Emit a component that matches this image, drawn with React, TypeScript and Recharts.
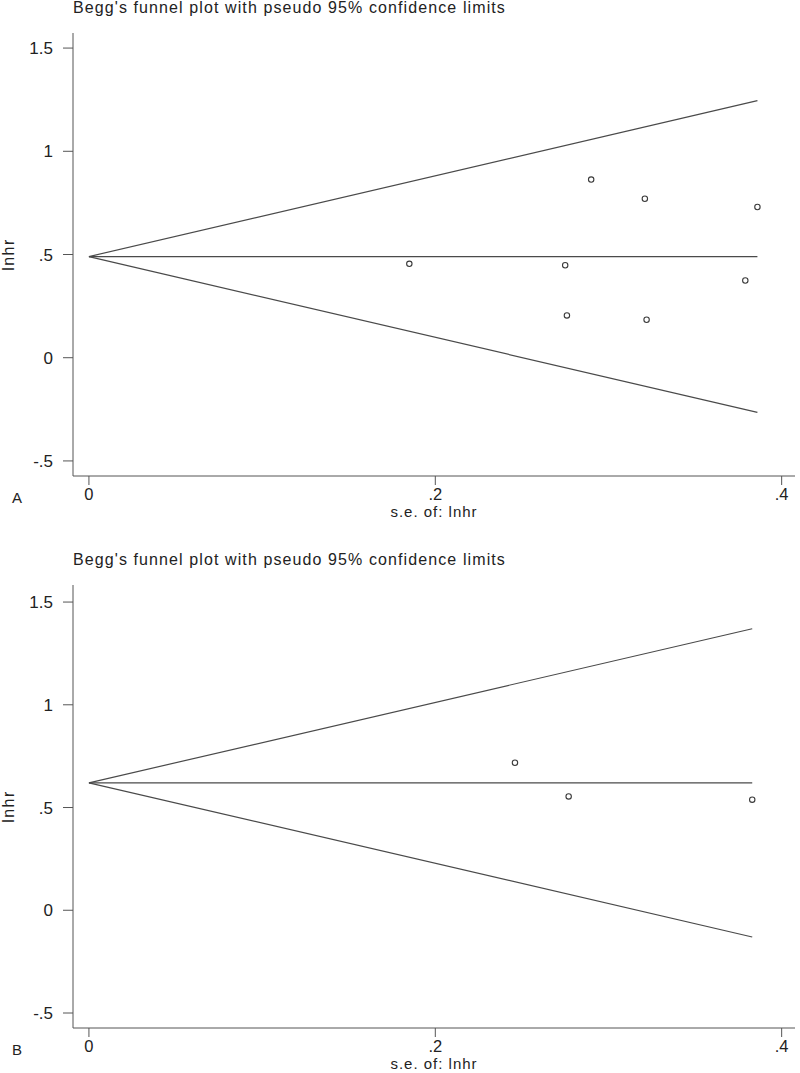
import React from 'react';
import { ScatterChart, Scatter, XAxis, YAxis, Label } from 'recharts';

// Panel A: study estimates (standard error vs log hazard ratio)
const seA = [0.185, 0.275, 0.276, 0.29, 0.321, 0.322, 0.379, 0.386];
const lnhrA = [0.455, 0.448, 0.205, 0.863, 0.77, 0.184, 0.374, 0.73];
// funnel lines A (pooled estimate and pseudo 95% limits)
const funnelSeA = [0, 0.386];
const upperA = [0.49, 1.245];
const pooledA = [0.49, 0.49];
const lowerA = [0.49, -0.265];

// Panel B
const seB = [0.246, 0.277, 0.383];
const lnhrB = [0.718, 0.554, 0.538];
const funnelSeB = [0, 0.383];
const upperB = [0.62, 1.37];
const pooledB = [0.62, 0.62];
const lowerB = [0.62, -0.13];

const xTicks = [0, 0.2, 0.4];
const yTicks = [-0.5, 0, 0.5, 1, 1.5];

const TITLE = "Begg's funnel plot with pseudo 95% confidence limits";
const FONT = '"Liberation Sans", Arial, sans-serif';
const AXIS = '#555';
const INK = '#222';

const stataNum = (v: number) => String(v).replace(/^(-?)0\./, '$1.');

const toPoints = (xs: number[], ys: number[]) => xs.map((x, i) => ({ se: x, v: ys[i] }));

const Hollow = ({ cx, cy }: any) => (
  <circle cx={cx} cy={cy} r={2.7} fill="#fff" stroke="#3a3a3a" strokeWidth={1.1} />
);
const NoDot = () => <g />;

interface PanelProps {
  letter: string;
  se: number[];
  lnhr: number[];
  funnelSe: number[];
  upper: number[];
  pooled: number[];
  lower: number[];
  yDomain: [number, number];
  height: number;
}

function FunnelPanel({ letter, se, lnhr, funnelSe, upper, pooled, lower, yDomain, height }: PanelProps) {
  const lineProps = {
    line: { stroke: '#4a4a4a', strokeWidth: 1.2 },
    shape: NoDot,
    isAnimationActive: false,
  };
  return (
    <div style={{ position: 'relative', width: 800, height }}>
      <ScatterChart
        width={800}
        height={height}
        margin={{ top: 33, right: 5, bottom: height - 506, left: 0 }}
        style={{ fontFamily: FONT }}
      >
        <XAxis
          type="number"
          dataKey="se"
          domain={[-0.0092, 0.4077]}
          allowDataOverflow
          ticks={xTicks}
          tickFormatter={stataNum}
          height={30}
          tickSize={9}
          tickMargin={3}
          stroke={AXIS}
          tick={{ fill: INK, fontSize: 16.5 }}
        >
          <Label
            value="s.e. of: lnhr"
            position="bottom"
            offset={0.5}
            style={{ fill: INK, fontSize: 15, letterSpacing: 1 }}
          />
        </XAxis>
        <YAxis
          type="number"
          dataKey="v"
          domain={yDomain}
          allowDataOverflow
          ticks={yTicks}
          tickFormatter={stataNum}
          width={73}
          tickSize={10}
          tickMargin={10}
          stroke={AXIS}
          tick={{ fill: INK, fontSize: 17 }}
        >
          <Label
            content={(props: any) => {
              const vb = props.viewBox;
              const x = vb.x + 14;
              const y = vb.y + vb.height / 2;
              return (
                <text
                  x={x}
                  y={y}
                  transform={`rotate(-90 ${x} ${y})`}
                  textAnchor="middle"
                  fill={INK}
                  fontSize={16}
                  letterSpacing={1.5}
                >
                  lnhr
                </text>
              );
            }}
          />
        </YAxis>
        <Scatter data={toPoints(funnelSe, upper)} {...lineProps} />
        <Scatter data={toPoints(funnelSe, pooled)} {...lineProps} />
        <Scatter data={toPoints(funnelSe, lower)} {...lineProps} />
        <Scatter data={toPoints(se, lnhr)} shape={Hollow} isAnimationActive={false} />
      </ScatterChart>
      <svg
        width={800}
        height={height}
        style={{ position: 'absolute', left: 0, top: 0, pointerEvents: 'none', fontFamily: FONT }}
      >
        <text x={73} y={13} fill={INK} fontSize={16} letterSpacing={1.1}>
          {TITLE}
        </text>
        <text x={17} y={503} textAnchor="middle" fill={INK} fontSize={15}>
          {letter}
        </text>
      </svg>
    </div>
  );
}

export default function App() {
  return (
    <div style={{ position: 'absolute', left: 0, top: 0, width: 800, height: 1073, background: '#fff' }}>
      <FunnelPanel
        letter="A"
        se={seA}
        lnhr={lnhrA}
        funnelSe={funnelSeA}
        upper={upperA}
        pooled={pooledA}
        lower={lowerA}
        yDomain={[-0.573, 1.573]}
        height={552}
      />
      <FunnelPanel
        letter="B"
        se={seB}
        lnhr={lnhrB}
        funnelSe={funnelSeB}
        upper={upperB}
        pooled={pooledB}
        lower={lowerB}
        yDomain={[-0.573, 1.583]}
        height={521}
      />
    </div>
  );
}
